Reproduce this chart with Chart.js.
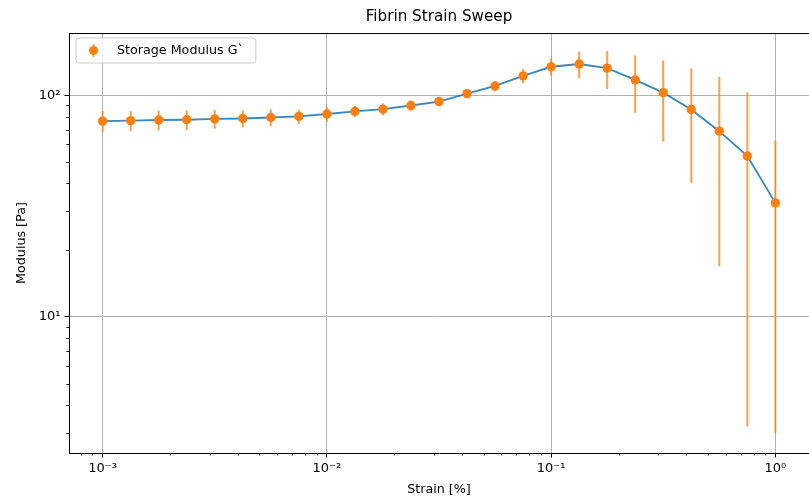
<!DOCTYPE html>
<html>
<head>
<meta charset="utf-8">
<script src="https://cdn.jsdelivr.net/npm/chart.js@4.4.0/dist/chart.umd.min.js"></script>
<style>
html, body { margin: 0; padding: 0; background: #ffffff; }
#wrap { width: 809px; height: 497px; position: relative; }
</style>
</head>
<body>
<div id="wrap"><canvas id="c" width="809" height="497"></canvas></div>
<script>
// ---- data ----
const strain = [0.001, 0.001334, 0.001778, 0.002371, 0.003162, 0.004217, 0.005623, 0.007499,
                0.01, 0.01334, 0.01778, 0.02371, 0.03162, 0.04217, 0.05623, 0.07499,
                0.1, 0.1334, 0.1778, 0.2371, 0.3162, 0.4217, 0.5623, 0.7499, 1.0];
const storageModulus = [76.5, 76.9, 77.4, 77.6, 78.3, 78.6, 79.4, 80.3,
                        82.3, 84.6, 86.6, 89.9, 93.7, 101.8, 110.2, 122.4,
                        134.5, 138.4, 132.7, 117.4, 102.8, 86.3, 68.9, 53.2, 32.7];
const storageModulusErr = [8.3, 8.0, 8.0, 8.0, 7.5, 7.0, 7.0, 6.0,
                           6.5, 5.0, 5.5, 5.0, 4.0, 3.0, 6.0, 9.0,
                           12.0, 19.0, 26.0, 34.0, 41.0, 46.0, 52.0, 50.0, 29.7];
const xTickValues = [0.001, 0.01, 0.1, 1];
const xTickLabels = ['10\u207B\u00B3', '10\u207B\u00B2', '10\u207B\u00B9', '10\u2070'];
const yTickValues = [10, 100];
const yTickLabels = ['10\u00B9', '10\u00B2'];
const xRange = [7.08e-4, 1.4125];
const yRange = [2.43, 191];
const chartTitle = 'Fibrin Strain Sweep';
const xTitle = 'Strain [%]';
const yTitle = 'Modulus [Pa]';
const seriesLabel = 'Storage Modulus G`';

// ---- styling ----
const FONT = "'DejaVu Sans', sans-serif";
const FS = 12.7;
const FS_TITLE = 15.2;
const FS_TICK = 13;
const C_LINE = 'rgba(31,119,180,0.88)';
const C_MARK = '#ff7f0e';
const C_ERR = 'rgba(255,127,14,0.75)';

const points = strain.map((x, i) => ({ x: x, y: storageModulus[i] }));

const errorBarPlugin = {
  id: 'errorBars',
  afterDatasetDraw(chart, args) {
    if (args.index !== 1) return;
    const { ctx, chartArea: a, scales: { x, y } } = chart;
    ctx.save();
    ctx.beginPath();
    ctx.rect(a.left, a.top, a.right - a.left, a.bottom - a.top);
    ctx.clip();
    ctx.strokeStyle = C_ERR;
    ctx.lineWidth = 2;
    strain.forEach((sx, i) => {
      const px = x.getPixelForValue(sx);
      const y1 = y.getPixelForValue(storageModulus[i] - storageModulusErr[i]);
      const y2 = y.getPixelForValue(storageModulus[i] + storageModulusErr[i]);
      ctx.beginPath();
      ctx.moveTo(px, y1);
      ctx.lineTo(px, y2);
      ctx.stroke();
    });
    ctx.restore();
  }
};

const axesExtrasPlugin = {
  id: 'axesExtras',
  afterDraw(chart) {
    const { ctx, chartArea: a, scales: { x, y } } = chart;
    ctx.save();
    ctx.strokeStyle = '#000';
    ctx.lineWidth = 1;
    ctx.beginPath();
    ctx.moveTo(a.left, a.top + 0.5);
    ctx.lineTo(a.right, a.top + 0.5);
    ctx.stroke();
    ctx.lineWidth = 0.9;
    for (let e = -5; e <= 3; e++) {
      for (let k = 2; k <= 9; k++) {
        const v = k * Math.pow(10, e);
        if (v > x.min && v < x.max) {
          const px = Math.round(x.getPixelForValue(v)) + 0.5;
          ctx.beginPath(); ctx.moveTo(px, a.bottom); ctx.lineTo(px, a.bottom + 2.6); ctx.stroke();
        }
        if (v > y.min && v < y.max) {
          const py = Math.round(y.getPixelForValue(v)) + 0.5;
          ctx.beginPath(); ctx.moveTo(a.left, py); ctx.lineTo(a.left - 2.6, py); ctx.stroke();
        }
      }
    }
    ctx.restore();
  }
};

const legendPlugin = {
  id: 'insideLegend',
  afterDraw(chart) {
    const { ctx, chartArea: a } = chart;
    ctx.save();
    ctx.font = FS + 'px ' + FONT;
    const left = a.left + 7, top = a.top + 5;
    const textX = left + 41;
    const tw = ctx.measureText(seriesLabel).width;
    const w = textX + tw + 12 - left, h = 25;
    const r = 3;
    ctx.beginPath();
    ctx.moveTo(left + r, top);
    ctx.arcTo(left + w, top, left + w, top + h, r);
    ctx.arcTo(left + w, top + h, left, top + h, r);
    ctx.arcTo(left, top + h, left, top, r);
    ctx.arcTo(left, top, left + w, top, r);
    ctx.closePath();
    ctx.fillStyle = 'rgba(255,255,255,0.8)';
    ctx.fill();
    ctx.strokeStyle = '#cccccc';
    ctx.lineWidth = 1;
    ctx.stroke();
    const mx = left + 17.5, my = top + h / 2;
    ctx.strokeStyle = C_ERR;
    ctx.lineWidth = 2;
    ctx.beginPath(); ctx.moveTo(mx, my - 6.5); ctx.lineTo(mx, my + 6.5); ctx.stroke();
    ctx.fillStyle = C_MARK;
    ctx.beginPath(); ctx.arc(mx, my, 4.5, 0, Math.PI * 2); ctx.fill();
    ctx.fillStyle = '#000';
    ctx.textBaseline = 'middle';
    ctx.textAlign = 'left';
    ctx.fillText(seriesLabel, textX, my + 0.5);
    ctx.restore();
  }
};

Chart.defaults.font.family = FONT;
Chart.defaults.font.size = FS;
Chart.defaults.color = '#000';

new Chart(document.getElementById('c'), {
  type: 'scatter',
  data: {
    datasets: [
      {
        label: seriesLabel,
        data: points,
        showLine: false,
        pointRadius: 4.7,
        pointBorderWidth: 0,
        pointBackgroundColor: C_MARK,
        pointBorderColor: C_MARK
      },
      {
        label: 'line',
        data: points,
        showLine: true,
        borderColor: C_LINE,
        borderWidth: 1.9,
        pointRadius: 0,
        tension: 0,
        fill: false
      }
    ]
  },
  options: {
    responsive: false,
    animation: false,
    events: [],
    layout: { padding: 0, autoPadding: false },
    plugins: {
      legend: { display: false },
      tooltip: { enabled: false },
      title: {
        display: true,
        text: chartTitle,
        fullSize: false,
        color: '#000',
        font: { size: FS_TITLE, weight: 'normal', family: FONT },
        padding: { top: 8, bottom: 6.8 }
      }
    },
    scales: {
      x: {
        type: 'logarithmic',
        position: 'bottom',
        min: xRange[0],
        max: xRange[1],
        bounds: 'data',
        afterBuildTicks(scale) { scale.ticks = xTickValues.map(v => ({ value: v, major: true })); },
        afterFit(scale) { scale.height = 44; },
        ticks: {
          autoSkip: false,
          maxRotation: 0,
          padding: 3,
          color: '#000',
          font: { size: FS_TICK },
          callback(value) { const i = xTickValues.indexOf(value); return i >= 0 ? xTickLabels[i] : ''; }
        },
        grid: { color: '#b0b0b0', lineWidth: 1, tickColor: '#000', tickLength: 4.5, drawTicks: true },
        border: { display: true, color: '#000', width: 1 },
        title: { display: true, text: xTitle, color: '#000', font: { size: FS }, padding: { top: 0, bottom: 0 } }
      },
      y: {
        type: 'logarithmic',
        position: 'left',
        min: yRange[0],
        max: yRange[1],
        bounds: 'data',
        afterBuildTicks(scale) { scale.ticks = yTickValues.map(v => ({ value: v, major: true })); },
        afterFit(scale) { scale.width = 69; },
        ticks: {
          autoSkip: false,
          padding: 4,
          color: '#000',
          font: { size: FS_TICK },
          callback(value) { const i = yTickValues.indexOf(value); return i >= 0 ? yTickLabels[i] : ''; }
        },
        grid: { color: '#b0b0b0', lineWidth: 1, tickColor: '#000', tickLength: 4.5, drawTicks: true },
        border: { display: true, color: '#000', width: 1 },
        title: { display: true, text: yTitle, color: '#000', font: { size: FS }, padding: { top: 14.4, bottom: 0 } }
      }
    }
  },
  plugins: [errorBarPlugin, axesExtrasPlugin, legendPlugin]
});
</script>
</body>
</html>
